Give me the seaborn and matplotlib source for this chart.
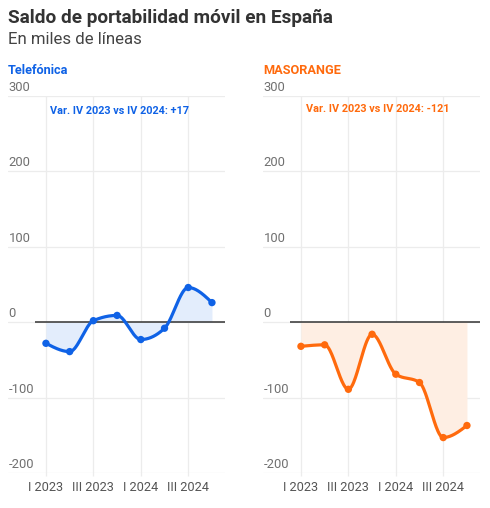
import numpy as np
import pandas as pd
import matplotlib
matplotlib.use("Agg")
import matplotlib.pyplot as plt
import matplotlib.transforms as mtrans
import seaborn as sns

# ---- data ----
quarters = ["I 2023", "II 2023", "III 2023", "IV 2023", "I 2024", "II 2024", "III 2024", "IV 2024"]
tick_labels = ["I 2023", "III 2023", "I 2024", "III 2024"]
telefonica = [-28, -39, 2, 9, -23, -8, 46, 26]
masorange = [-32, -30, -89, -16, -69, -80, -153, -137]
y_ticks = [300, 200, 100, 0, -100, -200]
title = "Saldo de portabilidad móvil en España"
subtitle = "En miles de líneas"
panel_names = ["Telefónica", "MASORANGE"]
notes = ["Var. IV 2023 vs IV 2024: +17", "Var. IV 2023 vs IV 2024: -121"]

BLUE = "#0f62e6"
ORANGE = "#ff6a0d"
FILL_BLUE = "#e3edfc"
FILL_ORANGE = "#feeee3"


def monotone_x(x, y, n=40):
    """d3 curveMonotoneX style rendering of the line."""
    x = np.asarray(x, float)
    y = np.asarray(y, float)
    h = np.diff(x)
    s = np.diff(y) / h
    m = np.zeros_like(y)
    for i in range(1, len(x) - 1):
        h0, h1, s0, s1 = h[i - 1], h[i], s[i - 1], s[i]
        p = (s0 * h1 + s1 * h0) / (h0 + h1)
        m[i] = (np.sign(s0) + np.sign(s1)) * min(abs(s0), abs(s1), 0.5 * abs(p))
    m[0] = (3 * s[0] - m[1]) / 2
    m[-1] = (3 * s[-1] - m[-2]) / 2
    xs, ys = [], []
    for i in range(len(x) - 1):
        t = np.linspace(0, 1, n, endpoint=(i == len(x) - 2))
        h00 = 2 * t**3 - 3 * t**2 + 1
        h10 = t**3 - 2 * t**2 + t
        h01 = -2 * t**3 + 3 * t**2
        h11 = t**3 - t**2
        xs.append(x[i] + t * h[i])
        ys.append(h00 * y[i] + h10 * h[i] * m[i] + h01 * y[i + 1] + h11 * h[i] * m[i + 1])
    return np.concatenate(xs), np.concatenate(ys)


sns.set_style("white")
plt.rcParams["font.family"] = ["Roboto", "DejaVu Sans"]

W, H = 490, 508
fig = plt.figure(figsize=(W / 100, H / 100), dpi=100)

fig.text(8 / W, 1 - 18 / H, title, fontsize=13.7, fontweight="bold", color="#333333", va="center", ha="left")
fig.text(8 / W, 1 - 39 / H, subtitle, fontsize=12.1, color="#444444", va="center", ha="left")

xpos = np.arange(len(quarters))
panels = [
    (8, telefonica, BLUE, FILL_BLUE, 50, 111),
    (263, masorange, ORANGE, FILL_ORANGE, 306, 109),
]
top_px, bot_px = 96, 473
for k, (left_px, vals, col, fcol, note_x, note_y) in enumerate(panels):
    ax = fig.add_axes([left_px / W, 1 - bot_px / H, 217 / W, (bot_px - top_px) / H])
    ax.set_xlim(-1.6, 7.55)
    ax.set_ylim(-200, 300)
    for sp in ax.spines.values():
        sp.set_visible(False)

    # grid
    for yv in y_ticks:
        ax.axhline(yv, color="#ececec", lw=0.9, zorder=0)
    ax.vlines([0, 2, 4, 6], -204, 300, color="#ececec", lw=0.9, zorder=0, clip_on=False)

    sx, sy = monotone_x(xpos, vals)
    ax.fill_between(sx, sy, 0, color=fcol, lw=0, zorder=1)
    ax.hlines(0, -0.45, 7.55, color="#333333", lw=1.1, zorder=2)
    df_line = pd.DataFrame({"x": sx, "y": sy})
    sns.lineplot(data=df_line, x="x", y="y", ax=ax, color=col, lw=2.3, sort=False, zorder=3)
    df_pts = pd.DataFrame({"x": xpos, "y": vals})
    sns.scatterplot(data=df_pts, x="x", y="y", ax=ax, color=col, s=28, edgecolor="none", zorder=4)

    ax.set_xlabel("")
    ax.set_ylabel("")
    ax.set_xticks([0, 2, 4, 6])
    ax.set_xticklabels(tick_labels)
    ax.set_yticks(y_ticks)
    ax.set_yticklabels([str(v) for v in y_ticks])
    ax.tick_params(axis="x", length=0, pad=6, labelsize=9.2, labelcolor="#555555")
    ax.tick_params(axis="y", length=0, pad=-0.5, labelsize=9.4, labelcolor="#707070")
    off = mtrans.ScaledTranslation(0, 2 / 100, fig.dpi_scale_trans)
    for lab in ax.get_yticklabels():
        lab.set_ha("left")
        lab.set_va("bottom")
        lab.set_transform(lab.get_transform() + off)

    fig.text(left_px / W, 1 - 70 / H, panel_names[k], fontsize=9.2, fontweight="bold", color=col,
             va="center", ha="left")
    fig.text(note_x / W, 1 - note_y / H, notes[k], fontsize=7.8, fontweight="bold", color=col,
             va="center", ha="left")

fig.savefig("out.png", dpi=100)
